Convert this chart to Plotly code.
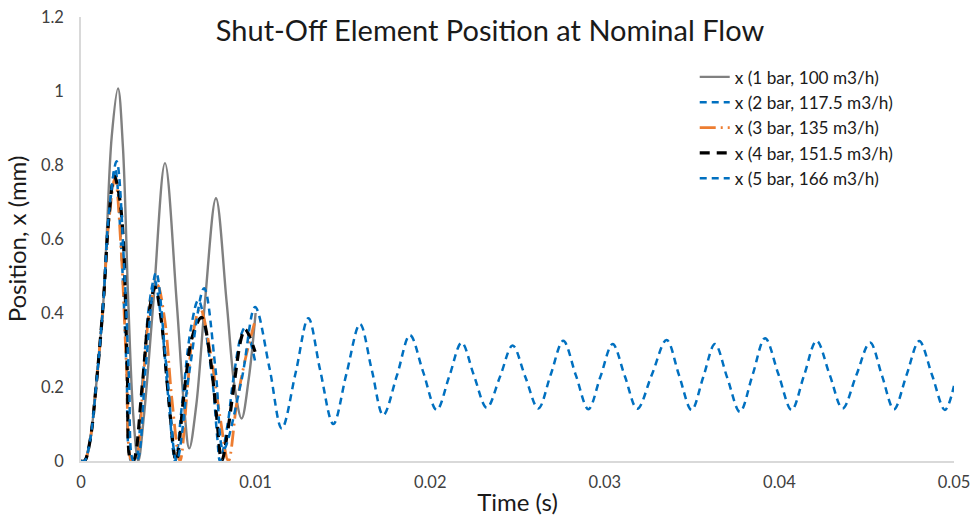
import plotly.graph_objects as go

# ---- data ----
t_1bar = [0, 0.0002, 0.0005, 0.0009, 0.00128, 0.00147, 0.00176, 0.00212, 0.0024, 0.00271, 0.0030, 0.00328,
          0.0036, 0.00414, 0.00481, 0.00548, 0.0059, 0.0062, 0.0066, 0.0071, 0.00773, 0.00834, 0.0088,
          0.0092, 0.0096, 0.0100]
x_1bar = [0, 0, 0.05, 0.22, 0.43, 0.606, 0.877, 1.007, 0.85, 0.426, 0.12, 0.0,
          0.12, 0.426, 0.805, 0.43, 0.15, 0.034, 0.15, 0.43, 0.71, 0.43, 0.2,
          0.115, 0.22, 0.40]

t_2bar = [0, 0.0002, 0.0005, 0.0009, 0.00128, 0.0016, 0.00195, 0.0023, 0.0026, 0.00288, 0.0031,
          0.0035, 0.0039, 0.0042, 0.0046, 0.0050, 0.0054, 0.0058, 0.0063, 0.00672, 0.00748, 0.0078,
          0.00796, 0.0084, 0.00872, 0.0092, 0.0094, 0.00997]
x_2bar = [0, 0, 0.05, 0.22, 0.43, 0.66, 0.79, 0.58, 0.26, 0.0, 0.0,
          0.2, 0.42, 0.49, 0.38, 0.17, 0.0, 0.16, 0.36, 0.435, 0.237, 0.066,
          0.0, 0.1, 0.22, 0.345, 0.36, 0.27]

t_3bar = [0, 0.0002, 0.0005, 0.0009, 0.00128, 0.0016, 0.00195, 0.0023, 0.0026, 0.0029, 0.0031,
          0.0036, 0.0040, 0.00437, 0.0048, 0.0052, 0.00567, 0.0061, 0.0064, 0.00682, 0.00739, 0.00796,
          0.00844, 0.00892, 0.0094, 0.00993]
x_3bar = [0, 0, 0.05, 0.22, 0.43, 0.65, 0.765, 0.57, 0.26, 0.0, 0.0,
          0.24, 0.43, 0.476, 0.38, 0.17, 0.0, 0.2, 0.34, 0.413, 0.30, 0.12,
          0.0, 0.156, 0.273, 0.372]

t_4bar = [0, 0.0002, 0.0005, 0.0009, 0.00128, 0.0016, 0.00191, 0.00218, 0.00242, 0.00265, 0.00286, 0.0030,
          0.0035, 0.0039, 0.00424, 0.0046, 0.0050, 0.00545, 0.0059, 0.0064, 0.00691, 0.00739, 0.00777,
          0.00806, 0.0084, 0.00872, 0.0092, 0.0094, 0.00997]
x_4bar = [0, 0, 0.05, 0.22, 0.43, 0.66, 0.77, 0.72, 0.60, 0.246, 0.0, 0.0,
          0.2, 0.4, 0.47, 0.38, 0.18, 0.0, 0.18, 0.34, 0.388, 0.282, 0.12,
          0.0, 0.08, 0.19, 0.336, 0.356, 0.295]

t_5bar = [0, 0.0002, 0.0005, 0.0009, 0.00128, 0.0016, 0.00204, 0.0025, 0.00275, 0.0030, 0.0032,
          0.0037, 0.0043, 0.0049, 0.00548, 0.0062, 0.00705, 0.0077, 0.00815, 0.0092, 0.00997,
          0.0108, 0.0115, 0.0123, 0.01302, 0.0137, 0.01445, 0.0152, 0.01598, 0.01665, 0.01731,
          0.0181, 0.01884, 0.0196, 0.02037, 0.0211, 0.0218, 0.0225, 0.02324, 0.0240, 0.02472,
          0.02545, 0.02619, 0.0269, 0.02762, 0.02834, 0.02906, 0.02975, 0.03045, 0.03115, 0.03186,
          0.0327, 0.03354, 0.03425, 0.03497, 0.03564, 0.03631, 0.03702, 0.03774, 0.03846, 0.03918,
          0.03994, 0.0407, 0.04141, 0.04213, 0.04288, 0.04362, 0.0444, 0.04519, 0.04588, 0.04656,
          0.04728, 0.04801, 0.04875, 0.04948, 0.0500]
x_5bar = [0, 0, 0.05, 0.22, 0.43, 0.67, 0.81, 0.5, 0.22, 0.0, 0.0,
          0.25, 0.51, 0.25, 0.0, 0.24, 0.467, 0.25, 0.03, 0.22, 0.416,
          0.25, 0.088, 0.24, 0.386, 0.245, 0.10, 0.235, 0.37, 0.247, 0.124,
          0.232, 0.34, 0.24, 0.138, 0.23, 0.32, 0.232, 0.144, 0.228, 0.312,
          0.227, 0.142, 0.233, 0.325, 0.232, 0.14, 0.228, 0.316, 0.229, 0.141,
          0.234, 0.327, 0.232, 0.138, 0.227, 0.316, 0.224, 0.133, 0.232, 0.332,
          0.235, 0.138, 0.231, 0.325, 0.233, 0.142, 0.231, 0.32, 0.23, 0.14,
          0.232, 0.324, 0.231, 0.138, 0.203]

names = ["x (1 bar, 100 m3/h)", "x (2 bar, 117.5 m3/h)", "x (3 bar, 135 m3/h)",
         "x (4 bar, 151.5 m3/h)", "x (5 bar, 166 m3/h)"]
y_ticks = [0, 0.2, 0.4, 0.6, 0.8, 1, 1.2]
x_ticks = [0, 0.01, 0.02, 0.03, 0.04, 0.05]

FONT = "Lato"
fig = go.Figure()
styles = [
    dict(color="#808080", width=2.4, dash="solid"),
    dict(color="#0070C0", width=2.5, dash="7px,5px"),
    dict(color="#ED7D31", width=2.8, dash="16px,5px,2px,5px"),
    dict(color="#000000", width=3.2, dash="10px,7px"),
    dict(color="#0070C0", width=2.5, dash="7px,5px"),
]
series = [(t_1bar, x_1bar), (t_2bar, x_2bar), (t_3bar, x_3bar), (t_4bar, x_4bar), (t_5bar, x_5bar)]
for (tt, xx), nm, st in zip(series, names, styles):
    fig.add_trace(go.Scatter(x=tt, y=xx, name=nm, mode="lines",
                             line=dict(color=st["color"], width=st["width"], dash=st["dash"],
                                       shape="spline", smoothing=1.0)))

fig.update_layout(
    width=975, height=521,
    margin=dict(l=81, r=21, t=17, b=60),
    paper_bgcolor="white", plot_bgcolor="white",
    font=dict(family=FONT, color="#404040", size=16.5),
    title=dict(text="Shut-Off Element Position at Nominal Flow", x=0.5026, xref="container",
               xanchor="center", y=1 - 31 / 521, yref="container", yanchor="middle",
               font=dict(family=FONT, size=29, color="#1a1a1a")),
    legend=dict(x=0.703, y=0.905, xanchor="left", yanchor="top", bgcolor="rgba(0,0,0,0)",
                font=dict(family=FONT, size=17.2, color="#1a1a1a"), tracegroupgap=0),
    showlegend=True,
)
fig.update_xaxes(range=[0, 0.05], tickvals=x_ticks, ticktext=[str(v) for v in x_ticks],
                 showgrid=False, zeroline=False, showline=True, linecolor="#d9d9d9", linewidth=1.5,
                 ticks="outside", ticklen=5, tickcolor="rgba(0,0,0,0)", automargin=False,
                 title=dict(text="Time (s)", font=dict(family=FONT, size=24, color="#1a1a1a"), standoff=4))
fig.update_yaxes(range=[0, 1.2], tickvals=y_ticks, ticktext=[str(v) for v in y_ticks],
                 showgrid=False, zeroline=False, showline=True, linecolor="#d9d9d9", linewidth=1.5,
                 ticks="outside", ticklen=12, tickcolor="rgba(0,0,0,0)", automargin=False,
                 title=dict(text="Position, x (mm)", font=dict(family=FONT, size=24, color="#1a1a1a"), standoff=8))

fig.write_html("out.html")
